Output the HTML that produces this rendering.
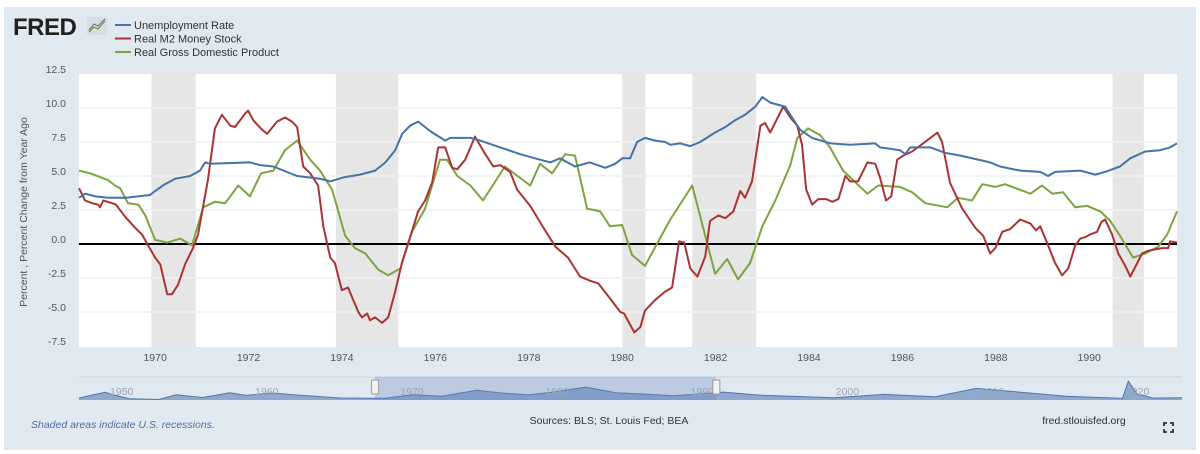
<!DOCTYPE html>
<html><head><meta charset="utf-8">
<style>
body{margin:0;background:#fff;width:1200px;height:454px;overflow:hidden;font-family:"Liberation Sans",sans-serif}
#panel{position:absolute;left:4px;top:7px;width:1192px;height:443px;background:#e1e9f0}
svg{position:absolute;left:0;top:0}
</style></head><body>
<div id="panel"></div>
<svg id="chart" width="1200" height="454"></svg>
<script>
const uDates=[1968.37,1968.50,1968.72,1968.99,1969.36,1969.89,1970.00,1970.21,1970.43,1970.75,1970.96,1971.07,1971.18,1972.03,1972.25,1972.53,1973.04,1973.53,1973.75,1974.03,1974.39,1974.71,1974.93,1975.14,1975.29,1975.46,1975.63,1975.89,1976.21,1976.32,1976.75,1976.96,1977.39,1977.82,1978.24,1978.46,1978.67,1978.99,1979.31,1979.64,1979.85,1980.00,1980.17,1980.32,1980.49,1980.71,1980.92,1981.03,1981.24,1981.46,1981.67,1981.99,1982.21,1982.42,1982.63,1982.85,1983.00,1983.17,1983.49,1983.60,1983.81,1984.07,1984.46,1984.88,1985.42,1985.52,1985.95,1986.06,1986.17,1986.60,1986.92,1987.24,1987.88,1988.09,1988.52,1988.95,1989.12,1989.27,1989.81,1990.13,1990.34,1990.66,1990.88,1991.20,1991.52,1991.73,1991.88];
const uVals=[3.4,3.7,3.5,3.4,3.4,3.6,3.9,4.4,4.8,5.0,5.4,6.0,5.9,6.0,5.8,5.7,5.0,4.8,4.6,4.9,5.1,5.4,6.0,6.9,8.1,8.7,9.0,8.3,7.6,7.8,7.8,7.6,7.1,6.6,6.2,6.0,6.3,5.7,6.0,5.6,5.9,6.3,6.3,7.5,7.8,7.6,7.5,7.3,7.4,7.2,7.5,8.2,8.6,9.1,9.5,10.1,10.8,10.4,10.1,9.5,8.4,7.8,7.4,7.3,7.4,7.1,6.9,6.6,7.1,7.1,6.7,6.5,6.0,5.7,5.4,5.3,5.0,5.3,5.4,5.1,5.3,5.7,6.3,6.8,6.9,7.1,7.4];
const mDates=[1968.37,1968.50,1968.65,1968.78,1968.82,1968.89,1969.08,1969.16,1969.36,1969.57,1969.72,1969.85,1970.00,1970.11,1970.17,1970.26,1970.36,1970.49,1970.64,1970.81,1970.92,1971.03,1971.13,1971.28,1971.43,1971.61,1971.71,1971.93,1971.99,1972.10,1972.29,1972.40,1972.61,1972.78,1972.93,1973.04,1973.17,1973.32,1973.49,1973.60,1973.75,1973.85,1974.00,1974.13,1974.35,1974.43,1974.54,1974.60,1974.71,1974.86,1974.99,1975.14,1975.29,1975.46,1975.63,1975.78,1975.93,1976.06,1976.21,1976.36,1976.47,1976.64,1976.85,1977.07,1977.24,1977.39,1977.60,1977.75,1978.03,1978.35,1978.57,1978.84,1979.10,1979.31,1979.49,1979.74,1979.96,1980.04,1980.26,1980.39,1980.49,1980.71,1980.92,1981.07,1981.22,1981.33,1981.46,1981.61,1981.78,1981.88,1982.06,1982.21,1982.38,1982.53,1982.63,1982.78,1982.96,1983.06,1983.17,1983.45,1983.60,1983.75,1983.85,1983.94,1984.07,1984.20,1984.37,1984.50,1984.63,1984.78,1984.88,1985.05,1985.25,1985.42,1985.52,1985.65,1985.76,1985.89,1986.02,1986.21,1986.60,1986.75,1986.85,1987.02,1987.28,1987.56,1987.73,1987.88,1987.99,1988.14,1988.31,1988.52,1988.74,1988.86,1988.95,1989.12,1989.27,1989.42,1989.55,1989.70,1989.81,1989.91,1990.02,1990.17,1990.26,1990.34,1990.49,1990.62,1990.77,1990.88,1991.03,1991.13,1991.26,1991.41,1991.56,1991.69,1991.73,1991.88];
const mVals=[4.1,3.2,3.0,2.9,2.7,3.2,3.0,2.9,2.0,1.2,0.7,-0.1,-1.0,-1.5,-2.4,-3.7,-3.7,-3.0,-1.5,-0.3,0.7,2.8,4.7,8.5,9.5,8.7,8.6,9.6,9.8,9.1,8.4,8.1,9.0,9.3,9.0,8.6,5.7,5.2,4.3,1.3,-1.0,-1.4,-3.4,-3.2,-5.0,-5.4,-5.1,-5.6,-5.4,-5.8,-5.4,-3.5,-1.3,0.5,2.4,3.2,4.5,7.1,7.1,5.6,5.5,6.2,7.9,6.6,5.7,5.8,5.3,4.0,2.8,1.0,-0.2,-1.0,-2.4,-2.7,-2.9,-4.0,-5.0,-5.1,-6.5,-6.1,-4.9,-4.1,-3.5,-3.2,0.2,0.1,-1.8,-2.4,-0.9,1.7,2.1,1.9,2.4,3.9,3.4,4.6,8.7,8.9,8.2,10.1,9.3,8.7,7.3,4.0,2.9,3.3,3.3,3.1,3.3,5.0,4.6,4.6,6.0,5.9,4.9,3.2,3.5,6.2,6.5,6.8,7.8,8.2,7.5,4.5,2.6,1.2,0.6,-0.7,-0.3,0.9,1.1,1.8,1.5,1.0,1.3,-0.1,-1.4,-2.3,-1.8,-0.1,0.4,0.5,0.7,0.9,1.6,1.8,0.7,-0.7,-1.6,-2.4,-1.4,-0.7,-0.5,-0.4,-0.3,-0.3,0.2,0.1];
const gDates=[1968.37,1968.61,1968.99,1969.14,1969.25,1969.42,1969.64,1969.79,1970.00,1970.26,1970.54,1970.79,1971.03,1971.28,1971.50,1971.78,1972.03,1972.27,1972.53,1972.78,1973.04,1973.32,1973.53,1973.79,1974.07,1974.28,1974.50,1974.78,1974.99,1975.25,1975.50,1975.78,1976.10,1976.25,1976.47,1976.75,1977.02,1977.49,1978.03,1978.24,1978.50,1978.78,1978.99,1979.25,1979.53,1979.74,1980.00,1980.21,1980.49,1981.03,1981.50,1981.99,1982.25,1982.48,1982.74,1983.00,1983.28,1983.60,1983.75,1983.98,1984.24,1984.45,1984.73,1985.25,1985.48,1985.95,1986.21,1986.49,1986.96,1987.19,1987.49,1987.71,1987.99,1988.20,1988.74,1988.99,1989.21,1989.44,1989.70,1989.96,1990.24,1990.45,1990.66,1990.94,1991.20,1991.48,1991.67,1991.88];
const gVals=[5.4,5.2,4.7,4.3,4.1,3.0,2.9,2.1,0.3,0.1,0.4,-0.1,2.7,3.1,3.0,4.3,3.5,5.2,5.4,6.9,7.6,6.2,5.4,4.0,0.6,-0.3,-0.7,-1.9,-2.3,-1.8,0.9,2.6,6.2,6.2,5.0,4.3,3.2,5.7,4.3,5.9,5.2,6.6,6.5,2.6,2.4,1.3,1.4,-0.8,-1.6,1.8,4.3,-2.2,-1.1,-2.6,-1.4,1.3,3.2,5.8,7.8,8.5,8.0,7.1,5.4,3.7,4.3,4.2,3.8,3.0,2.7,3.4,3.2,4.4,4.2,4.4,3.7,4.3,3.7,3.8,2.7,2.8,2.4,1.7,0.6,-1.0,-0.7,-0.2,0.7,2.4];
const recStart=[1969.92,1973.87,1980.0,1981.5,1990.5];
const recEnd=[1970.87,1975.21,1980.5,1982.87,1991.17];
const yTicks=[12.5,10.0,7.5,5.0,2.5,0.0,-2.5,-5.0,-7.5];
const xTicks=[1970,1972,1974,1976,1978,1980,1982,1984,1986,1988,1990];
const navDates=[1948,1949.8,1950.5,1951.5,1953.5,1954.7,1956.5,1958.4,1959.5,1961.3,1963,1966,1969,1971,1973,1975.4,1977,1979,1980.5,1982.9,1985,1989,1992.4,1995,2000,2003.5,2007,2009.8,2013,2016,2019.9,2020.3,2020.9,2022,2024];
const navVals=[3.8,7.5,5.5,3.3,2.8,5.9,4.1,7.2,5.5,7.0,5.7,3.8,3.5,5.9,4.9,8.8,7.1,5.8,7.4,10.8,7.2,5.3,7.6,5.6,4.0,6.1,4.6,10.0,7.4,4.9,3.5,14.7,6.5,3.7,4.0];
const navLabels=[1950,1960,1970,1980,1990,2000,2010,2020];

const NS='http://www.w3.org/2000/svg';
const svg=document.getElementById('chart');
const X0=79,X1=1177,T0=1968.37,T1=1991.88;
const xs=t=>X0+(t-T0)*(X1-X0)/(T1-T0);
const ys=v=>244-v*13.6;
function mk(tag,attrs,parent){const e=document.createElementNS(NS,tag);for(const k in attrs)e.setAttribute(k,attrs[k]);(parent||svg).appendChild(e);return e;}
function txt(s,attrs){const e=mk('text',attrs);e.textContent=s;return e;}

let e=txt('FRED',{x:13,y:35,'font-size':24,'font-weight':'bold',fill:'#231f20','letter-spacing':'-0.5'});


e=mk('rect',{x:87,y:17,width:20,height:18,fill:'#d9dde0',rx:1});


mk('polyline',{points:'89,32 94,27 98,29 105,21',fill:'none',stroke:'#6f9a3a','stroke-width':1.3});
mk('polyline',{points:'89,30 94,24 98,26 105,19',fill:'none',stroke:'#4572a7','stroke-width':1});
const legNames=['Unemployment Rate','Real M2 Money Stock','Real Gross Domestic Product'];
const legCols=['#4572a7','#aa3333','#7fa340'];
legNames.forEach((n,i)=>{
  const g=mk('g',{});
  
  
  mk('line',{x1:115,x2:131,y1:25+i*13.5,y2:25+i*13.5,stroke:legCols[i],'stroke-width':2},g);
  const t=mk('text',{x:134,y:29+i*13.5,'font-size':11,fill:'#333'},g);t.textContent=n;
});

e=mk('rect',{x:X0,y:74,width:X1-X0,height:273,fill:'#fff'});


recStart.forEach((s,i)=>{
  const r=mk('rect',{x:xs(s),y:74,width:xs(recEnd[i])-xs(s),height:273,fill:'#e6e6e6'});
  
  
});
yTicks.forEach(v=>{
  if(v!==0&&v!==12.5&&v!==-7.5){const l=mk('line',{x1:X0,x2:X1,y1:ys(v),y2:ys(v),stroke:'#efefef','stroke-width':1.5});
  
  }
  const t=txt(v.toFixed(1),{x:66,y:ys(v)-1,'font-size':10.5,fill:'#555','text-anchor':'end'});
  
  
});
xTicks.forEach(v=>{
  const t=txt(String(v),{x:xs(v),y:361,'font-size':10.5,fill:'#555','text-anchor':'middle'});
  
  
});
e=txt('Percent , Percent Change from Year Ago',{x:0,y:0,'font-size':10.5,fill:'#555','text-anchor':'middle',transform:'translate(27,212) rotate(-90)'});



e=mk('line',{x1:X0,x2:X1,y1:ys(0),y2:ys(0),stroke:'#000','stroke-width':2});



function series(d,v,col,name){
  const p=mk('polyline',{points:d.map((t,i)=>xs(t).toFixed(1)+','+ys(v[i]).toFixed(1)).join(' '),fill:'none',stroke:col,'stroke-width':2,'stroke-linejoin':'round'});
  
  
}
series(gDates,gVals,'#7fa340','gdp-line');
series(mDates,mVals,'#aa3333','m2-line');
series(uDates,uVals,'#4572a7','unemployment-line');

const NX0=79,NX1=1182,NT0=1948,NT1=2024;
const nx=t=>NX0+(t-NT0)*(NX1-NX0)/(NT1-NT0);
const ny=v=>400-(v-2.5)*1.55;
mk('line',{x1:NX0,x2:NX1,y1:377,y2:377,stroke:'#c8d3df','stroke-width':1});
const pts=navDates.map((t,i)=>nx(t).toFixed(1)+','+ny(navVals[i]).toFixed(1));
e=mk('polygon',{points:nx(navDates[0])+',400 '+pts.join(' ')+' '+nx(navDates[navDates.length-1])+',400',fill:'#8fa8cc','stroke':'none'});


mk('polyline',{points:pts.join(' '),fill:'none',stroke:'#4f76ad','stroke-width':1});
e=mk('rect',{x:nx(1968.37),y:377,width:nx(1991.88)-nx(1968.37),height:23,fill:'rgba(102,133,194,0.3)'});


navLabels.forEach(v=>{
  const t=txt(String(v),{x:nx(v)+2,y:395,'font-size':10.5,fill:'#99a6b8'});
  
  
});
[1968.37,1991.88].forEach((t,i)=>{
  const h=mk('rect',{x:nx(t)-3,y:380,width:7,height:14,fill:'#f2f2f2',stroke:'#999',rx:1});
  
  
});

e=txt('Shaded areas indicate U.S. recessions.',{x:31,y:428,'font-size':10.5,fill:'#4f6fa5','font-style':'italic'});


e=txt('Sources: BLS; St. Louis Fed; BEA',{x:609,y:424,'font-size':10.5,fill:'#333','text-anchor':'middle'});


e=txt('fred.stlouisfed.org',{x:1084,y:424,'font-size':10.5,fill:'#333','text-anchor':'middle'});


e=mk('path',{d:'M1164,426v-3h3M1170,423h3v3M1173,429v3h-3M1167,432h-3v-3',fill:'none',stroke:'#333','stroke-width':1.8});


</script>
</body></html>
